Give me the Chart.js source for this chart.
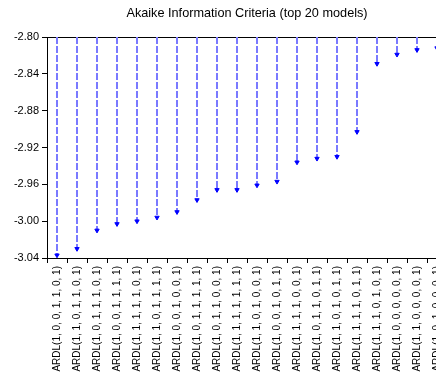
<!DOCTYPE html>
<html>
<head>
<meta charset="utf-8">
<script src="https://cdn.jsdelivr.net/npm/chart.js@4/dist/chart.umd.min.js"></script>
<style>
  html, body { margin: 0; padding: 0; background: #fff; overflow: hidden; }
  #wrap { width: 500px; height: 400px; }
</style>
</head>
<body>
<div id="wrap"><canvas id="aicChart" width="500" height="400"></canvas></div>
<script>
// top 20 models, ranked by AIC
const models = [
  'ARDL(1, 0, 0, 1, 1, 0, 1)', 'ARDL(1, 1, 0, 1, 1, 0, 1)', 'ARDL(1, 0, 1, 1, 1, 0, 1)',
  'ARDL(1, 0, 0, 1, 1, 1, 1)', 'ARDL(1, 1, 1, 1, 1, 0, 1)', 'ARDL(1, 1, 0, 1, 1, 1, 1)',
  'ARDL(1, 0, 0, 1, 0, 0, 1)', 'ARDL(1, 0, 1, 1, 1, 1, 1)', 'ARDL(1, 0, 1, 1, 0, 0, 1)',
  'ARDL(1, 1, 1, 1, 1, 1, 1)', 'ARDL(1, 1, 0, 1, 0, 0, 1)', 'ARDL(1, 0, 0, 1, 0, 1, 1)',
  'ARDL(1, 1, 1, 1, 0, 0, 1)', 'ARDL(1, 0, 1, 1, 0, 1, 1)', 'ARDL(1, 1, 0, 1, 0, 1, 1)',
  'ARDL(1, 1, 1, 1, 0, 1, 1)', 'ARDL(1, 1, 1, 0, 1, 0, 1)', 'ARDL(1, 0, 0, 0, 0, 0, 1)',
  'ARDL(1, 1, 0, 0, 0, 0, 1)', 'ARDL(1, 0, 1, 0, 0, 0, 1)'
];
const aic = [
  -3.037, -3.030, -3.010, -3.003, -3.000, -2.996, -2.990, -2.977, -2.966, -2.966,
  -2.961, -2.957, -2.936, -2.932, -2.930, -2.903, -2.829, -2.819, -2.814, -2.812
];
const yTicks = [-3.04, -3.00, -2.96, -2.92, -2.88, -2.84, -2.80];
const yTop = yTicks[yTicks.length - 1];
const yBottom = yTicks[0];

const font = { family: 'Liberation Sans, Arial, sans-serif', size: 10 };

// each model is a dashed drop line from the top of the axis down to its value
const datasets = models.map((m, i) => ({
  data: [{ x: m, y: yTop }, { x: m, y: aic[i] }],
  borderColor: '#7a7aff',
  borderWidth: 2,
  borderDash: [7, 2],
  pointRadius: [0, 2.5],
  pointStyle: 'triangle',
  pointRotation: 180,
  pointBackgroundColor: '#0000ff',
  pointBorderColor: '#0000ff',
  pointBorderWidth: 1,
  fill: false,
  tension: 0
}));

const ctx = document.getElementById('aicChart').getContext('2d');
new Chart(ctx, {
  type: 'line',
  data: { labels: models, datasets: datasets },
  options: {
    responsive: false,
    animation: false,
    layout: { padding: { left: 0, right: 6, top: 0, bottom: 0 } },
    plugins: {
      legend: { display: false },
      tooltip: { enabled: false },
      title: {
        display: true,
        text: 'Akaike Information Criteria (top 20 models)',
        color: '#000',
        font: { family: font.family, size: 12.7, weight: 'normal' },
        padding: { top: 6, bottom: 15.8 }
      }
    },
    scales: {
      x: {
        type: 'category',
        offset: true,
        grid: {
          offset: true,
          drawOnChartArea: false,
          color: '#000',
          tickColor: '#000',
          tickLength: 5
        },
        border: { color: '#000', width: 1 },
        ticks: {
          autoSkip: false,
          minRotation: 90,
          maxRotation: 90,
          color: '#000',
          font: font,
          padding: 3
        },
        afterFit: s => { s.height = 142; }
      },
      y: {
        min: yBottom,
        max: yTop,
        afterBuildTicks: s => { s.ticks = yTicks.map(v => ({ value: v })); },
        grid: {
          color: c => (c.tick && Math.abs(c.tick.value - yTop) < 1e-9) ? '#000' : 'rgba(0,0,0,0)',
          tickColor: '#000',
          tickLength: 5
        },
        border: { color: '#000', width: 1 },
        ticks: {
          color: '#000',
          font: { family: font.family, size: 11 },
          padding: 3,
          callback: v => Number(v).toFixed(2)
        },
        afterFit: s => { s.width = 47; }
      },
      // right-hand frame, keeps the title centred over the plot
      yRight: {
        position: 'right',
        min: yBottom,
        max: yTop,
        grid: { drawOnChartArea: false, drawTicks: false },
        border: { color: '#000', width: 1 },
        ticks: { display: false },
        afterFit: s => { s.width = 47; }
      }
    }
  }
});
</script>
</body>
</html>
